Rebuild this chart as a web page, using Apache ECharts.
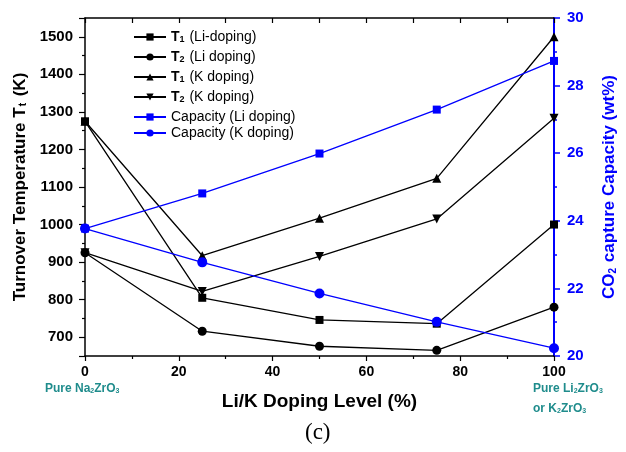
<!DOCTYPE html>
<html>
<head>
<meta charset="utf-8">
<script src="https://cdn.jsdelivr.net/npm/echarts@6/dist/echarts.min.js"></script>
<style>
html,body{margin:0;padding:0;background:#fff;}
#c{width:626px;height:452px;}
</style>
</head>
<body>
<div id="c"></div>
<script>
const xLevels = [0, 25, 50, 75, 100];
const t1Li = [1275, 805, 746, 736, 1000];
const t2Li = [925, 716, 676, 665, 780];
const t1K = [1275, 917, 1017, 1123, 1500];
const t2K = [925, 822, 915, 1015, 1283];
const capLi = [23.77, 24.81, 25.99, 27.29, 28.73];
const capK = [23.77, 22.77, 21.85, 21.01, 20.23];
const seriesNames = ['T1 (Li-doping)', 'T2 (Li doping)', 'T1 (K doping)', 'T2 (K doping)', 'Capacity (Li doping)', 'Capacity (K doping)'];

const BLUE = '#0000ff';
const TEAL = '#1f8c8c';
const FONT = '"Liberation Sans", Arial, sans-serif';

function pts(vals) { return xLevels.map((x, i) => [x, vals[i]]); }

function mk(name, vals, symbol, size, color, yIdx, rot) {
  return {
    name: name, type: 'line', data: pts(vals), yAxisIndex: yIdx, xAxisIndex: 0,
    symbol: symbol, symbolSize: size, symbolRotate: rot || 0,
    lineStyle: { color: color, width: 1.3 },
    itemStyle: { color: color },
    z: yIdx ? 3 : 2,
    animation: false
  };
}

const legendText = {
  fontFamily: FONT, fontSize: 14, color: '#000', lineHeight: 14,
  rich: {
    b: { fontFamily: FONT, fontWeight: 'bold', fontSize: 14, color: '#000' },
    s: { fontFamily: FONT, fontWeight: 'bold', fontSize: 9, color: '#000', verticalAlign: 'bottom', padding: [6, 1, 0, 0] }
  }
};
function legendFmt(n) { return n.replace(/^T(\d)/, '{b|T}{s|$1}'); }

const chart = echarts.init(document.getElementById('c'), null, { renderer: 'canvas' });
chart.setOption({
  backgroundColor: '#fff',
  textStyle: { fontFamily: FONT },
  animation: false,
  grid: { left: 85, right: 69, top: 18, bottom: 96, containLabel: false },
  legend: [{
    orient: 'vertical', left: 133, top: 30, padding: 0,
    itemWidth: 32, itemHeight: 9, itemGap: 6,
    data: seriesNames.slice(0, 5),
    formatter: legendFmt, textStyle: legendText
  }, {
    orient: 'vertical', left: 133, top: 126, padding: 0,
    itemWidth: 32, itemHeight: 9, itemGap: 6,
    data: seriesNames.slice(5),
    formatter: legendFmt, textStyle: legendText
  }],
  xAxis: [{
    type: 'value', min: 0, max: 100, interval: 20, position: 'bottom',
    axisLine: { show: true, onZero: false, lineStyle: { color: '#000', width: 1.5 } },
    axisTick: { show: true, inside: false, length: 5, lineStyle: { color: '#000', width: 1.2 } },
    minorTick: { show: true, splitNumber: 2, length: 3, lineStyle: { color: '#000', width: 1.2 } },
    splitLine: { show: false },
    axisLabel: { color: '#000', fontWeight: 'bold', fontSize: 14, fontFamily: FONT, margin: 9 },
    name: 'Li/K Doping Level (%)', nameLocation: 'middle', nameGap: 36,
    nameTextStyle: { color: '#000', fontWeight: 'bold', fontSize: 19, fontFamily: FONT }
  }, {
    type: 'value', min: 0, max: 100, interval: 10, position: 'top',
    axisLine: { show: true, onZero: false, lineStyle: { color: '#000', width: 1.5 } },
    axisTick: { show: true, inside: true, length: 5, lineStyle: { color: '#000', width: 1.2 } },
    splitLine: { show: false }, axisLabel: { show: false }
  }],
  yAxis: [{
    type: 'value', min: 650, max: 1550, splitNumber: 9, position: 'left',
    axisLine: { show: true, onZero: false, lineStyle: { color: '#000', width: 1.5 } },
    axisTick: { show: true, inside: false, length: 6, lineStyle: { color: '#000', width: 1.2 } },
    minorTick: { show: true, splitNumber: 2, length: 3, lineStyle: { color: '#000', width: 1.2 } },
    splitLine: { show: false },
    axisLabel: { color: '#000', fontWeight: 'bold', fontSize: 15, fontFamily: FONT, margin: 12, showMinLabel: false, showMaxLabel: false,
      formatter: function (v) { return String(v); } },
    name: 'Turnover Temperature T{s|t} (K)', nameLocation: 'middle', nameGap: 47, nameRotate: 90,
    nameTextStyle: {
      color: '#000', fontWeight: 'bold', fontSize: 17, fontFamily: FONT,
      rich: { s: { fontSize: 10, fontWeight: 'bold', color: '#000', fontFamily: FONT, verticalAlign: 'bottom', padding: [7, 2, 0, 1] } }
    }
  }, {
    type: 'value', min: 20, max: 30, interval: 2, position: 'right',
    axisLine: { show: true, onZero: false, lineStyle: { color: BLUE, width: 2 } },
    axisTick: { show: true, inside: false, length: 6, lineStyle: { color: BLUE, width: 1.5 } },
    minorTick: { show: true, splitNumber: 2, length: 3, lineStyle: { color: BLUE, width: 1.5 } },
    splitLine: { show: false },
    axisLabel: { color: BLUE, fontWeight: 'bold', fontSize: 15, fontFamily: FONT, margin: 13 },
    name: 'CO{s|2} capture Capacity (wt%)', nameLocation: 'middle', nameGap: 47, nameRotate: 90,
    nameTextStyle: {
      color: BLUE, fontWeight: 'bold', fontSize: 17, fontFamily: FONT,
      rich: { s: { fontSize: 10, fontWeight: 'bold', color: BLUE, fontFamily: FONT, verticalAlign: 'bottom', padding: [7, 1, 0, 0] } }
    }
  }],
  series: [
    mk(seriesNames[0], t1Li, 'rect', 8, '#000', 0),
    mk(seriesNames[1], t2Li, 'circle', 9, '#000', 0),
    mk(seriesNames[2], t1K, 'triangle', 9, '#000', 0),
    mk(seriesNames[3], t2K, 'triangle', 9, '#000', 0, 180),
    mk(seriesNames[4], capLi, 'rect', 8, BLUE, 1),
    mk(seriesNames[5], capK, 'circle', 10, BLUE, 1)
  ],
  graphic: [
    { type: 'text', left: 45, top: 383, style: { text: 'Pure Na{s|2}ZrO{s|3}', fill: TEAL, font: 'bold 12px ' + FONT,
      rich: { s: { fontSize: 7, fontWeight: 'bold', fill: TEAL, verticalAlign: 'bottom', padding: [5, 0, 0, 0] } } } },
    { type: 'text', left: 533, top: 383, style: { text: 'Pure Li{s|2}ZrO{s|3}', fill: TEAL, font: 'bold 12px ' + FONT,
      rich: { s: { fontSize: 7, fontWeight: 'bold', fill: TEAL, verticalAlign: 'bottom', padding: [5, 0, 0, 0] } } } },
    { type: 'text', left: 533, top: 403, style: { text: 'or K{s|2}ZrO{s|3}', fill: TEAL, font: 'bold 12px ' + FONT,
      rich: { s: { fontSize: 7, fontWeight: 'bold', fill: TEAL, verticalAlign: 'bottom', padding: [5, 0, 0, 0] } } } },
    { type: 'text', left: 305, top: 421, style: { text: '(c)', fill: '#000', font: '23px "Liberation Serif", "Times New Roman", serif' } }
  ]
});
</script>
</body>
</html>
